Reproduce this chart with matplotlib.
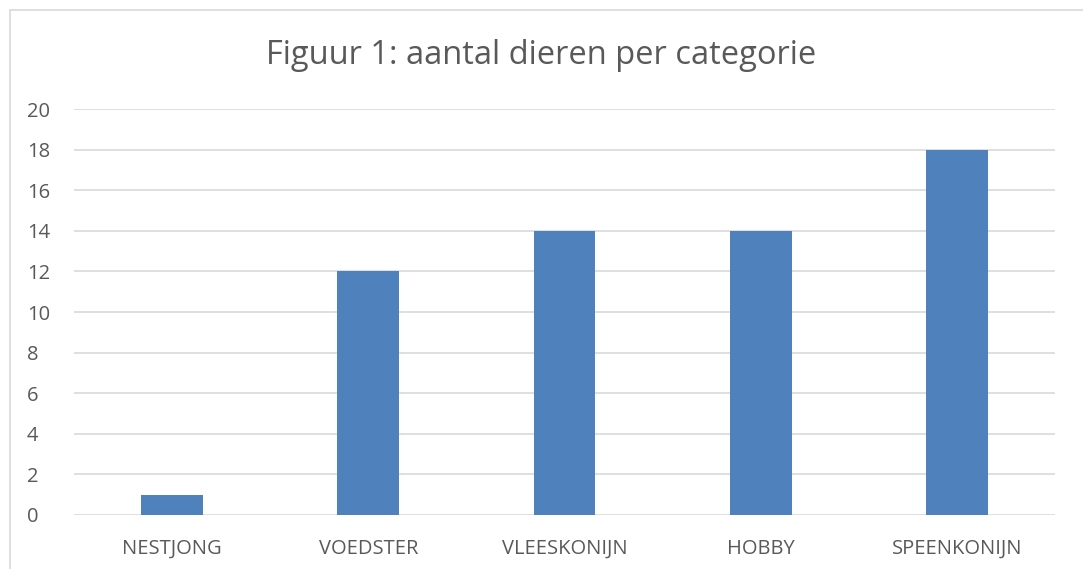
# Staafdiagram: aantal dieren per categorie
import matplotlib.pyplot as plt
from matplotlib.patches import Rectangle

# Categorieën en aantallen
categorieen = ['NESTJONG', 'VOEDSTER', 'VLEESKONIJN', 'HOBBY', 'SPEENKONIJN']
aantallen = [1, 12, 14, 14, 18]
yticks = list(range(0, 21, 2))

plt.rcParams['font.family'] = ['Open Sans', 'DejaVu Sans']

fig = plt.figure(figsize=(10.83, 5.69), dpi=100)
ax = fig.add_axes([74 / 1083, 54 / 569, 981 / 1083, 406 / 569])

# Rand om de grafiek (alleen links en boven zichtbaar)
fig.patches.append(Rectangle((10 / 1083, -0.1), 1.2, (569 - 10) / 569 + 0.1,
                             transform=fig.transFigure, fill=False,
                             edgecolor='#D9D9D9', linewidth=1.2))

ax.bar(range(len(categorieen)), aantallen, width=0.315, color='#4F81BD', zorder=3)

ax.set_xlim(-0.5, len(categorieen) - 0.5)
ax.set_ylim(0, 20)
ax.set_yticks(yticks)
ax.set_xticks(range(len(categorieen)))
ax.set_xticklabels(categorieen)
ax.grid(axis='y', color='#D9D9D9', linewidth=1.2, zorder=0)
ax.tick_params(length=0, labelsize=14.5, colors='#595959')
ax.tick_params(axis='y', pad=34)
ax.tick_params(axis='x', pad=17)
for lbl in ax.get_yticklabels():
    lbl.set_horizontalalignment('left')
for s in ax.spines.values():
    s.set_visible(False)

fig.text(0.5, 1 - 55 / 569, 'Figuur 1: aantal dieren per categorie',
         ha='center', va='center', fontsize=23.5, color='#595959')

plt.savefig('out.png', dpi=100)
